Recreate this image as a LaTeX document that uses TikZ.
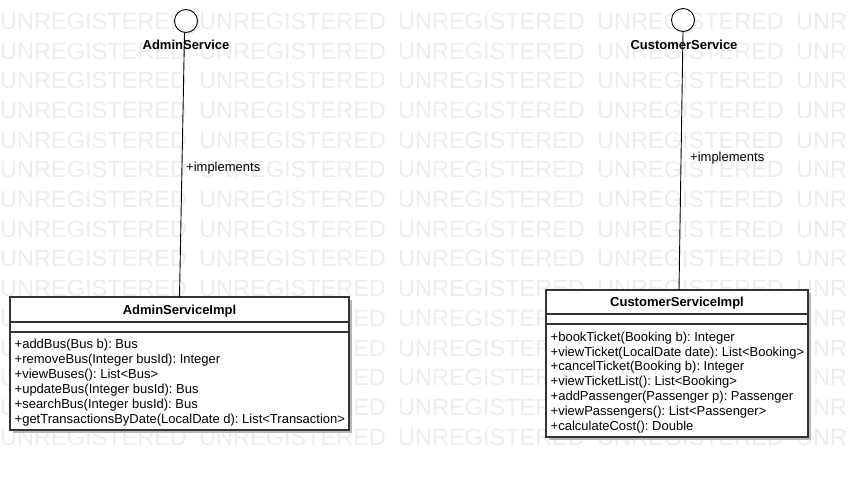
\documentclass[tikz,border=0pt]{standalone}
\usepackage{fontspec}
\setmainfont{Liberation Sans}
\usetikzlibrary{shadows}
\frenchspacing
\begin{document}
\begin{tikzpicture}[x=1pt,y=-1pt,
  wm/.style={anchor=base west, inner sep=0pt, text=black!7, font=\fontsize{23.5}{28}\selectfont},
  cls/.style={draw=black!80, line width=1.1pt, fill=white, inner sep=0pt, outer sep=0pt,
    drop shadow={shadow xshift=3pt, shadow yshift=-3pt, fill=black!28, opacity=1}},
  sepline/.style={draw=black!80, line width=1.1pt},
  iface/.style={circle, draw=black, line width=0.9pt, fill=white, minimum size=23pt, inner sep=0pt,
    drop shadow={shadow xshift=2pt, shadow yshift=-2pt, fill=black!8, opacity=1}},
  ilabel/.style={inner sep=0pt, font=\bfseries\fontsize{13}{15}\selectfont},
  ttl/.style={anchor=base, inner sep=0pt, font=\bfseries\fontsize{13}{15}\selectfont},
  meth/.style={anchor=base west, inner sep=0pt, font=\fontsize{13}{15}\selectfont},
  lbl/.style={anchor=base west, inner sep=0pt, font=\fontsize{13}{15}\selectfont},
  conn/.style={draw=black, line width=0.9pt}]
\useasboundingbox (0,0) rectangle (848,477);
\fill[white] (0,0) rectangle (848,477);
% watermark
\begin{scope}
\clip (0,0) rectangle (848,477);
\foreach \r in {0,...,14}{
  \foreach \c in {0,...,4}{
    \node[wm] (w\r-\c) at (199*\c, 29.3+29.7*\r) {UNREGISTERED};
  }
}
\end{scope}
% interfaces
\node[iface] (ai) at (186,21) {};
\node[iface] (ci) at (683,20) {};
\node[ilabel] (al) at (186,45) {AdminService};
\node[ilabel] (cl) at (684,45) {CustomerService};
% classes
\node[cls, minimum width=339pt, minimum height=133pt] (ab) at (179.5,363.5) {};
\draw[sepline] ([yshift=-25pt]ab.north west) -- ([yshift=-25pt]ab.north east);
\draw[sepline] ([yshift=-35pt]ab.north west) -- ([yshift=-35pt]ab.north east);
\node[ttl] (at) at (179.5,314.2) {AdminServiceImpl};
\foreach \t [count=\i from 0] in {
  +addBus(Bus b): Bus,
  +removeBus(Integer busId): Integer,
  +viewBuses(): List<Bus>,
  +updateBus(Integer busId): Bus,
  +searchBus(Integer busId): Bus,
  +getTransactionsByDate(LocalDate d): List<Transaction>}{
  \node[meth] (am\i) at (14.5, 348.3+14.95*\i) {\t};
}
\node[cls, minimum width=262pt, minimum height=147pt] (cb) at (677,363.5) {};
\draw[sepline] ([yshift=-24pt]cb.north west) -- ([yshift=-24pt]cb.north east);
\draw[sepline] ([yshift=-34pt]cb.north west) -- ([yshift=-34pt]cb.north east);
\node[ttl] (ct) at (677,306.7) {CustomerServiceImpl};
\foreach \t [count=\i from 0] in {
  +bookTicket(Booking b): Integer,
  +viewTicket(LocalDate date): List<Booking>,
  +cancelTicket(Booking b): Integer,
  +viewTicketList(): List<Booking>,
  +addPassenger(Passenger p): Passenger,
  +viewPassengers(): List<Passenger>,
  +calculateCost(): Double}{
  \node[meth] (cm\i) at (550.5, 341.2+14.8*\i) {\t};
}
% connectors
\draw[conn] ([xshift=-1.5pt]ai.south) -- (ab.north);
\draw[conn] (ci.south) -- ([xshift=2pt]cb.north);
\node[lbl] (ail) at (186,171) {+implements};
\node[lbl] (cil) at (690,161) {+implements};
\end{tikzpicture}
\end{document}
